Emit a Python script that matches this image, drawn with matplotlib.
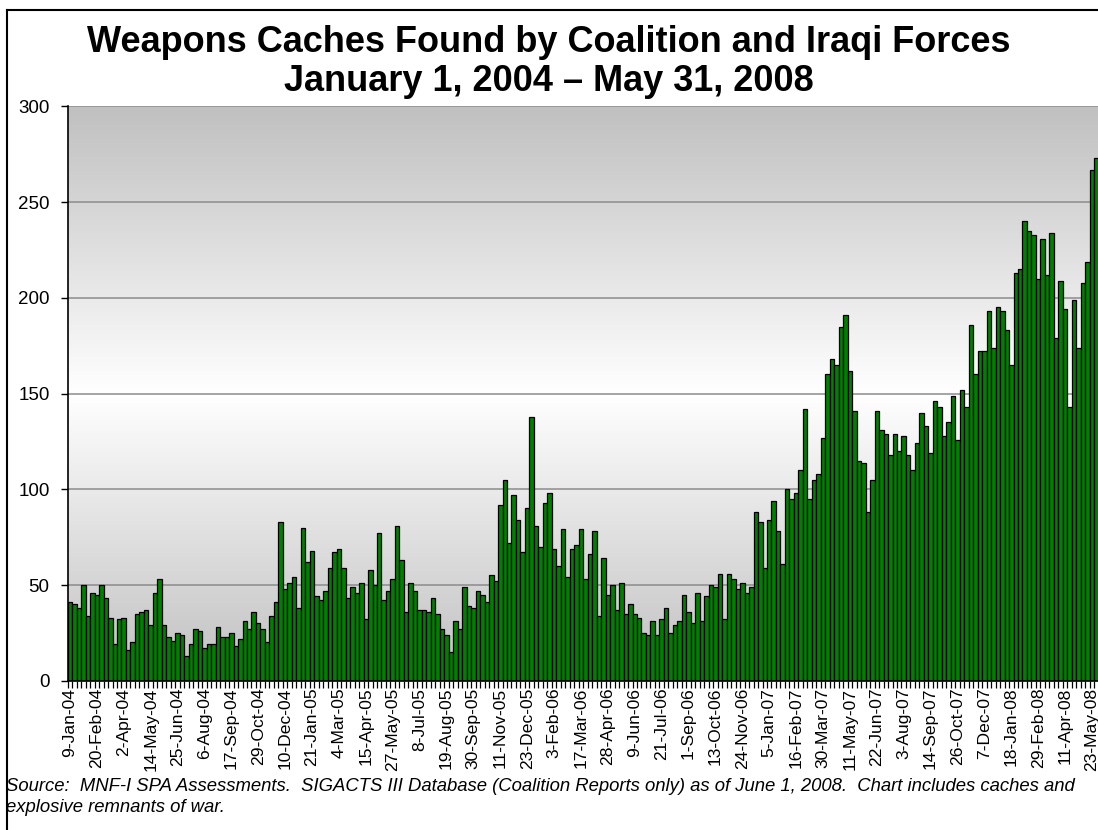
import numpy as np
import matplotlib
matplotlib.use("Agg")
import matplotlib.pyplot as plt
from matplotlib.lines import Line2D
from matplotlib.colors import LinearSegmentedColormap

plt.rcParams['font.family'] = ['Liberation Sans', 'DejaVu Sans']

# weekly caches found, 9-Jan-04 .. 30-May-08
caches = [
    41, 40, 38, 50, 34, 46, 45, 50, 43, 33, 19, 32, 33, 16, 20, 35, 36, 37, 29, 46,
    53, 29, 23, 21, 25, 24, 13, 19, 27, 26, 17, 19, 19, 28, 23, 23, 25, 18, 22, 31,
    27, 36, 30, 27, 20, 34, 41, 83, 48, 51, 54, 38, 80, 62, 68, 44, 42, 47, 59, 67,
    69, 59, 43, 49, 46, 51, 32, 58, 50, 77, 42, 47, 53, 81, 63, 36, 51, 47, 37, 37,
    36, 43, 35, 27, 24, 15, 31, 27, 49, 39, 38, 47, 45, 41, 55, 52, 92, 105, 72, 97,
    84, 67, 90, 138, 81, 70, 93, 98, 69, 60, 79, 54, 69, 71, 79, 53, 66, 78, 34, 64,
    45, 50, 37, 51, 35, 40, 35, 33, 25, 24, 31, 24, 32, 38, 25, 29, 31, 45, 36, 30,
    46, 31, 44, 50, 49, 56, 32, 56, 53, 48, 51, 46, 49, 88, 83, 59, 84, 94, 78, 61,
    100, 95, 98, 110, 142, 95, 105, 108, 127, 160, 168, 165, 185, 191, 162, 141, 115, 114, 88, 105,
    141, 131, 129, 118, 129, 120, 128, 118, 110, 124, 140, 133, 119, 146, 143, 128, 135, 149, 126, 152,
    143, 186, 160, 172, 172, 193, 174, 195, 193, 183, 165, 213, 215, 240, 235, 233, 210, 231, 212, 234,
    179, 209, 194, 143, 199, 174, 208, 219, 267, 273,
]

# every sixth week gets a label
week_labels = [
    "9-Jan-04", "20-Feb-04", "2-Apr-04", "14-May-04", "25-Jun-04", "6-Aug-04",
    "17-Sep-04", "29-Oct-04", "10-Dec-04", "21-Jan-05", "4-Mar-05", "15-Apr-05",
    "27-May-05", "8-Jul-05", "19-Aug-05", "30-Sep-05", "11-Nov-05", "23-Dec-05",
    "3-Feb-06", "17-Mar-06", "28-Apr-06", "9-Jun-06", "21-Jul-06", "1-Sep-06",
    "13-Oct-06", "24-Nov-06", "5-Jan-07", "16-Feb-07", "30-Mar-07", "11-May-07",
    "22-Jun-07", "3-Aug-07", "14-Sep-07", "26-Oct-07", "7-Dec-07", "18-Jan-08",
    "29-Feb-08", "11-Apr-08", "23-May-08",
]
label_step = 6
y_ticks = [0, 50, 100, 150, 200, 250, 300]

title = "Weapons Caches Found by Coalition and Iraqi Forces\nJanuary 1, 2004 \u2013 May 31, 2008"
source = ("Source:  MNF-I SPA Assessments.  SIGACTS III Database (Coalition Reports only) "
          "as of June 1, 2008.  Chart includes caches and\nexplosive remnants of war.")

W, H = 1098, 830
fig = plt.figure(figsize=(W / 100, H / 100), dpi=100)
ax = fig.add_axes([67.7 / W, 1 - 680.7 / H, 1031 / W, (680.7 - 106.5) / H])

x = np.arange(len(caches))
n = len(caches)

# grey -> white -> grey background
cmap = LinearSegmentedColormap.from_list("bg", ["#c0c0c0", "#ffffff", "#c0c0c0"])
grad = np.linspace(0, 1, 256).reshape(-1, 1)
ax.imshow(grad, cmap=cmap, aspect="auto", extent=[-0.5, n - 0.5, 0, 300],
          origin="lower", zorder=0, interpolation="bicubic")

for yv in y_ticks[1:]:
    ax.axhline(yv, color="#8c8c8c", lw=1.1, zorder=1)

ax.bar(x, caches, width=1.0, color="#008000", edgecolor="black", linewidth=0.9, zorder=2)

ax.set_xlim(-0.5, n - 0.5)
ax.set_ylim(0, 300)
ax.set_yticks(y_ticks)
ax.set_xticks(x[::label_step][:len(week_labels)])
ax.set_xticklabels(week_labels, rotation=90, fontsize=12.6)
ax.set_xticks(np.arange(-0.5, n, 1), minor=True)
ax.tick_params(axis="x", which="major", length=0, pad=5)
ax.tick_params(axis="x", which="minor", length=5, width=0.9)
ax.tick_params(axis="y", length=5, width=1, labelsize=13.5, pad=8)

for s in ["top", "right"]:
    ax.spines[s].set_visible(False)
ax.spines["left"].set_linewidth(1.2)
ax.spines["bottom"].set_linewidth(1.2)

fig.text(0.5, 1 - 62 / H, title, ha="center", va="center", fontsize=26,
         fontweight="bold", linespacing=1.17)
fig.text(6 / W, 1 - 797 / H, source, ha="left", va="center", fontsize=13.3,
         style="italic", linespacing=1.25)

# outer frame (cut off on the right and bottom)
fig.add_artist(Line2D([7 / W, 7 / W], [0, 1 - 10 / H], color="black", lw=1.5))
fig.add_artist(Line2D([7 / W, 1], [1 - 10 / H, 1 - 10 / H], color="black", lw=1.5))

fig.savefig("out.png", dpi=100)
